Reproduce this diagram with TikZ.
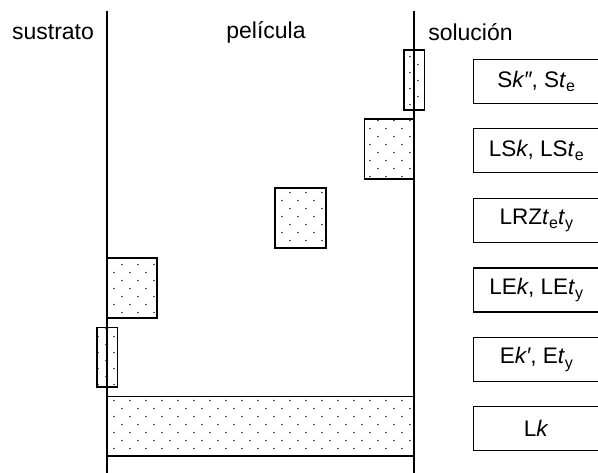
\documentclass[tikz,border=0pt]{standalone}
\usepackage{fontspec}
\setmainfont{Liberation Sans}
\newcommand\sub[1]{\raisebox{-0.35ex}{\fontsize{16}{16}\selectfont #1}}
\tikzset{
  wall/.style={line width=1.5pt},
  zone/.style={line width=1.6pt},
  dotc/.style={fill=black!80},
  labbox/.style={draw, line width=1.5pt, minimum width=126pt, minimum height=44pt, inner sep=0pt, font=\fontsize{22.5}{26}\selectfont},
  head/.style={inner sep=0pt, font=\fontsize{23}{27}\selectfont}
}
\newcommand\dotzone[4]{%
 \begin{scope}
 \clip (#1,#2) rectangle (#3,#4);
 \pgfmathtruncatemacro\ysA{floor(#2/8)*8}%
 \pgfmathtruncatemacro\ysB{\ysA+8}%
 \pgfmathtruncatemacro\ysE{#4}%
 \pgfmathtruncatemacro\xsA{floor(#1/16)*16-16}%
 \pgfmathtruncatemacro\xsB{\xsA+16}%
 \pgfmathtruncatemacro\xsE{#3+16}%
 \foreach \yy in {\ysA,\ysB,...,\ysE}{%
   \pgfmathtruncatemacro\off{mod(\yy,16)==0 ? 2 : 10}%
   \foreach \xx in {\xsA,\xsB,...,\xsE}{\fill[dotc] (\xx+\off,\yy+0.5) circle (0.9);}%
 }
 \end{scope}
 \draw[zone] (#1,#2) rectangle (#3,#4);}
\begin{document}
\begin{tikzpicture}[x=1pt,y=-1pt]
\useasboundingbox (0,0) rectangle (598,473);
% zones
\dotzone{404}{50}{424.5}{110}
\dotzone{364.3}{119}{414}{179}
\dotzone{275}{188.3}{326}{248.3}
\dotzone{107}{258.3}{156.7}{318.3}
\dotzone{96.7}{327.7}{117.5}{387.3}
\dotzone{107}{396.7}{414}{456}
% walls
\coordinate (lt) at (107,11); \coordinate (lb) at (107,473);
\coordinate (rt) at (414,11); \coordinate (rb) at (414,473);
\draw[wall] (lt) -- (lb);
\draw[wall] (rt) -- (rb);
% headers
\node[head] (h1) at (53,32) {sustrato};
\node[head] (h2) at (266,32) {película};
\node[head] (h3) at (470.5,32) {solución};
% label boxes
\node[labbox] (b1) at (536.3,81.3) {S\textit{k″}, S\textit{t}\sub{e}};
\node[labbox] (b2) at (536.3,150.5) {LS\textit{k}, LS\textit{t}\sub{e}};
\node[labbox] (b3) at (536.3,220.3) {LRZ\textit{t}\sub{e}\textit{t}\sub{y}};
\node[labbox] (b4) at (536.3,290) {LE\textit{k}, LE\textit{t}\sub{y}};
\node[labbox] (b5) at (536.3,359.5) {E\textit{k′}, E\textit{t}\sub{y}};
\node[labbox] (b6) at (536.3,428.7) {L\textit{k}};
\end{tikzpicture}
\end{document}
